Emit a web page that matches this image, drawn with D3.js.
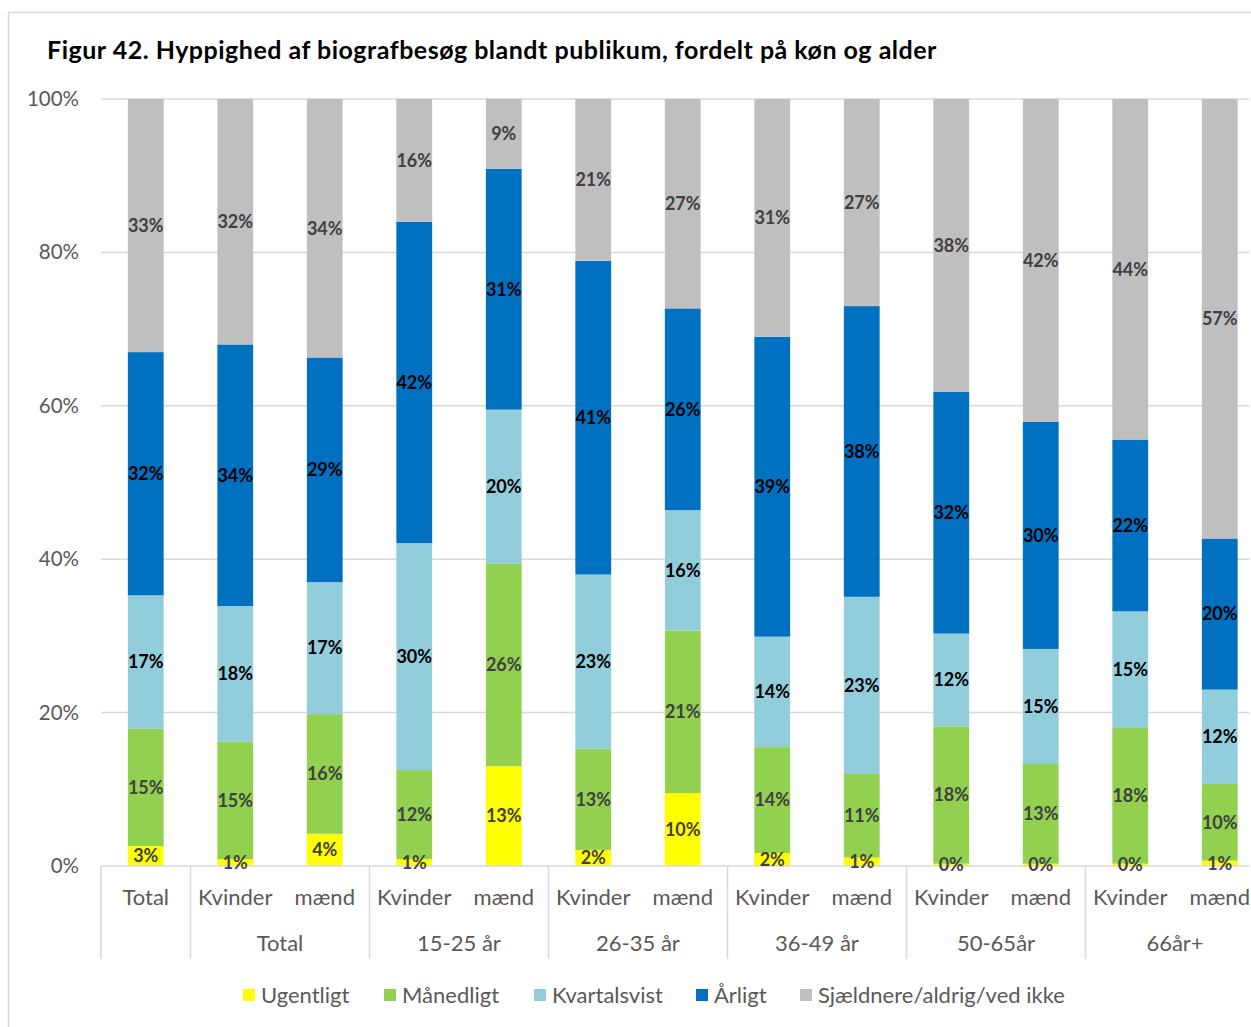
<!DOCTYPE html>
<html>
<head>
<meta charset="utf-8">
<script src="https://cdn.jsdelivr.net/npm/d3@7"></script>
<style>
  html, body { margin: 0; padding: 0; background: #fff; }
  svg { display: block; font-family: Lato, "Open Sans", sans-serif; }
</style>
</head>
<body>
<svg id="chart" width="1251" height="1027"></svg>
<script>
// Bar labels (inner axis level) and their groups (outer axis level)
const barLabels = ["Total", "Kvinder", "mænd", "Kvinder", "mænd", "Kvinder", "mænd",
                   "Kvinder", "mænd", "Kvinder", "mænd", "Kvinder", "mænd"];
const groupLabels = ["", "Total", "15-25 år", "26-35 år", "36-49 år", "50-65år", "66år+"];
const groupOfBar = [0, 1, 1, 2, 2, 3, 3, 4, 4, 5, 5, 6, 6];

// Share of respondents (%) per frequency, one value per bar
const ugentligt      = [2.6, 0.9, 4.2, 0.9, 13.0, 2.1, 9.5, 1.7, 1.1, 0.3, 0.3, 0.3, 0.7];
const maanedligt     = [15.3, 15.3, 15.6, 11.6, 26.4, 13.2, 21.2, 13.8, 10.9, 17.9, 13.0, 17.7, 10.0];
const kvartalsvist   = [17.4, 17.7, 17.2, 29.6, 20.1, 22.7, 15.7, 14.4, 23.1, 12.1, 15.0, 15.2, 12.3];
const aarligt        = [31.7, 34.1, 29.3, 41.9, 31.4, 40.9, 26.3, 39.1, 37.9, 31.5, 29.6, 22.4, 19.7];
const sjaeldnere     = [33.0, 32.0, 33.7, 16.0, 9.1, 21.1, 27.3, 31.0, 27.0, 38.2, 42.1, 44.4, 57.3];

const seriesNames  = ["Ugentligt", "Månedligt", "Kvartalsvist", "Årligt", "Sjældnere/aldrig/ved ikke"];
const seriesColors = ["#FFFF00", "#92D050", "#92CDDC", "#0070C0", "#BFBFBF"];
const labelColors  = ["#404040", "#404040", "#000000", "#000000", "#404040"];
const yTicks = [0, 20, 40, 60, 80, 100];

const seriesValues = [ugentligt, maanedligt, kvartalsvist, aarligt, sjaeldnere];
const rows = barLabels.map((label, i) => {
  const row = { index: i, label };
  seriesNames.forEach((name, s) => { row[name] = seriesValues[s][i]; });
  return row;
});

const svg = d3.select("#chart");

// Chart frame
svg.append("rect")
  .attr("x", 8.5).attr("y", 12.5)
  .attr("width", 1400).attr("height", 1100)
  .attr("fill", "none").attr("stroke", "#d9d9d9").attr("stroke-width", 1.5);

// Title
svg.append("text")
  .attr("x", 47).attr("y", 59)
  .attr("font-size", 25).attr("font-weight", 700).attr("fill", "#000")
  .attr("letter-spacing", 0.5)
  .text("Figur 42. Hyppighed af biografbesøg blandt publikum, fordelt på køn og alder");

const plotLeft = 101, plotRight = 1249, plotTop = 99, plotBottom = 866;

const x = d3.scaleBand()
  .domain(rows.map(d => d.index))
  .range([plotLeft, plotLeft + 13 * 89.5])
  .paddingInner(0.6)
  .paddingOuter(0.3);

const y = d3.scaleLinear().domain([0, 100]).range([plotBottom, plotTop]);

// Gridlines
svg.append("g")
  .selectAll("line")
  .data(yTicks.filter(t => t > 0))
  .join("line")
  .attr("x1", plotLeft).attr("x2", plotRight)
  .attr("y1", d => y(d)).attr("y2", d => y(d))
  .attr("stroke", "#d9d9d9").attr("stroke-width", 1.5);

// Y axis labels
const yAxis = svg.append("g")
  .attr("transform", `translate(${plotLeft},0)`)
  .call(d3.axisLeft(y).tickValues(yTicks).tickFormat(d => d + "%").tickSize(0).tickPadding(22));
yAxis.select(".domain").remove();
yAxis.selectAll("text")
  .attr("font-family", "Lato, sans-serif")
  .attr("font-size", 20.5).attr("fill", "#595959");

// Stacked bars
const stack = d3.stack().keys(seriesNames);
const layers = stack(rows);

const layerG = svg.append("g")
  .selectAll("g")
  .data(layers)
  .join("g")
  .attr("fill", (d, i) => seriesColors[i]);

layerG.selectAll("rect")
  .data(d => d)
  .join("rect")
  .attr("x", d => x(d.data.index))
  .attr("width", x.bandwidth())
  .attr("y", d => y(d[1]))
  .attr("height", d => y(d[0]) - y(d[1]));

// Category axis line
svg.append("line")
  .attr("x1", plotLeft).attr("x2", plotRight)
  .attr("y1", plotBottom).attr("y2", plotBottom)
  .attr("stroke", "#d9d9d9").attr("stroke-width", 1.5);

// Group separators on the category axis
const step = x.step();
const separatorX = [plotLeft, plotLeft + step, plotLeft + 3 * step, plotLeft + 5 * step,
                    plotLeft + 7 * step, plotLeft + 9 * step, plotLeft + 11 * step];
svg.append("g")
  .selectAll("line")
  .data(separatorX)
  .join("line")
  .attr("x1", d => d).attr("x2", d => d)
  .attr("y1", plotBottom).attr("y2", 959)
  .attr("stroke", "#d9d9d9").attr("stroke-width", 1.5);

// Inner category labels
const xAxis = svg.append("g")
  .attr("transform", `translate(0,${plotBottom})`)
  .call(d3.axisBottom(x).tickFormat(i => barLabels[i]).tickSize(0).tickPadding(23));
xAxis.select(".domain").remove();
xAxis.selectAll("text")
  .attr("font-family", "Lato, sans-serif")
  .attr("font-size", 22).attr("fill", "#595959");

// Outer group labels
const groupCenters = groupLabels.map((g, gi) => {
  const members = rows.filter(r => groupOfBar[r.index] === gi);
  return d3.mean(members, r => x(r.index) + x.bandwidth() / 2);
});
svg.append("g")
  .selectAll("text")
  .data(groupLabels)
  .join("text")
  .attr("x", (d, i) => groupCenters[i])
  .attr("y", 943)
  .attr("dy", "0.35em")
  .attr("text-anchor", "middle")
  .attr("font-size", 22).attr("fill", "#595959")
  .text(d => d);

// Value labels, centred in each segment
const labelG = svg.append("g")
  .selectAll("g")
  .data(layers)
  .join("g")
  .attr("fill", (d, i) => labelColors[i]);

labelG.selectAll("text")
  .data(d => d)
  .join("text")
  .attr("x", d => x(d.data.index) + x.bandwidth() / 2)
  .attr("y", d => y((d[0] + d[1]) / 2))
  .attr("dy", "0.35em")
  .attr("text-anchor", "middle")
  .attr("font-size", 18).attr("font-weight", 700)
  .text(d => d3.format(".0f")(d[1] - d[0]) + "%");

// Legend
const legendItems = [
  { x: 243 }, { x: 384 }, { x: 534 }, { x: 696 }, { x: 800 }
];
const legend = svg.append("g")
  .selectAll("g")
  .data(seriesNames)
  .join("g")
  .attr("transform", (d, i) => `translate(${legendItems[i].x},995)`);
legend.append("rect")
  .attr("x", 0).attr("y", -6).attr("width", 12).attr("height", 12)
  .attr("fill", (d, i) => seriesColors[i]);
legend.append("text")
  .attr("x", 18).attr("y", 0).attr("dy", "0.35em")
  .attr("font-size", 22).attr("fill", "#595959")
  .text(d => d);
</script>
</body>
</html>
